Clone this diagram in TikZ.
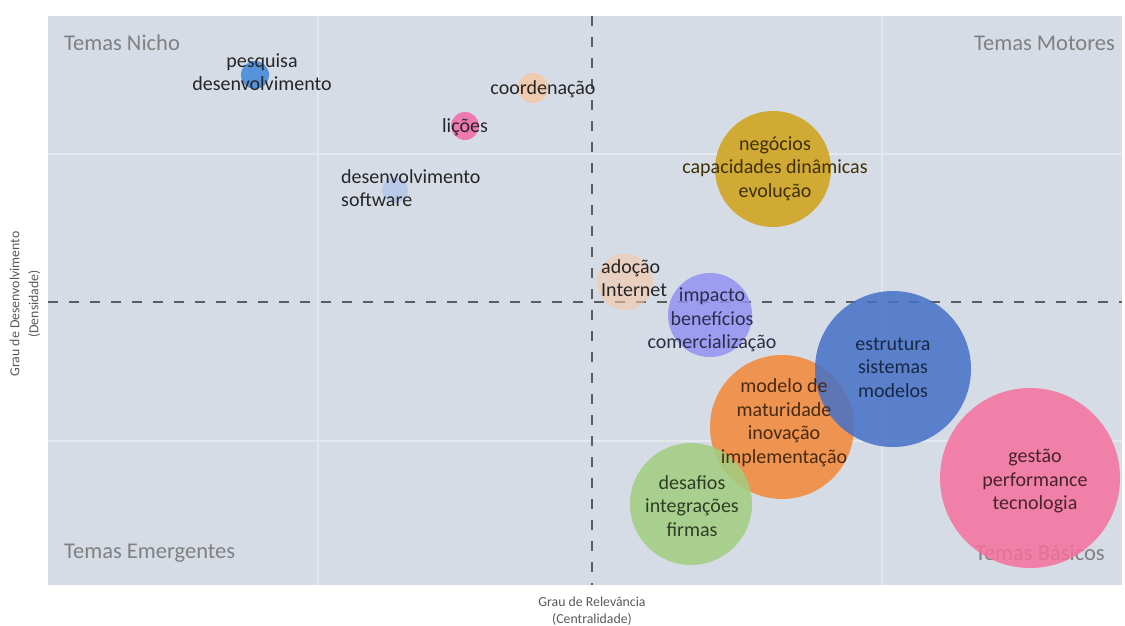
\documentclass[tikz,border=0pt]{standalone}
\usepackage{fontspec}
\setmainfont{Carlito}
\usetikzlibrary{positioning}
\definecolor{fundo}{HTML}{D6DCE5}
\definecolor{ouro}{HTML}{D1A117}
\definecolor{lilas}{HTML}{9292F2}
\definecolor{azul}{HTML}{4570C8}
\definecolor{laranja}{HTML}{F38736}
\definecolor{verde}{HTML}{A1CD7F}
\definecolor{rosa}{HTML}{F5709D}
\definecolor{azulp}{HTML}{3F86D8}
\definecolor{pessego}{HTML}{F4C7A6}
\definecolor{rosap}{HTML}{F06AA8}
\definecolor{azulc}{HTML}{B4C6EC}
\tikzset{
    bolha/.style = {circle, inner sep=0pt, draw=none, fill opacity=0.85},
    rotulo/.style = {align=center, inner sep=0pt, font=\fontsize{20}{23.5}\selectfont, text=black!85},
    quadrante/.style = {inner sep=0pt, font=\fontsize{22.5}{26}\selectfont, text=black!50},
    eixo/.style = {align=center, inner sep=0pt, font=\fontsize{13.8}{17}\selectfont, text=black!65},
    tracejado/.style = {line width=2.2pt, draw=black!64, dash pattern=on 10pt off 11pt}, % quadrantes
    grade/.style = {line width=1.5pt, draw=white!35!fundo}
}

\begin{document}
\begin{tikzpicture}[x=1pt,y=-1pt]
\useasboundingbox (0,0) rectangle (1125,625);
%
\fill[fundo] (48,16) rectangle (1122,585);
\foreach \gx in {318,882} \draw[grade] (\gx,16) -- (\gx,585);
\foreach \gy in {154,441} \draw[grade] (48,\gy) -- (1122,\gy);
%
\coordinate (topo) at (592,16);
\coordinate (base) at (592,585);
\coordinate (esq) at (48,302);
\coordinate (dir) at (1122,302);
\draw[tracejado] (topo) -- (base);
\draw[tracejado] (esq) -- (dir);
%
\node[quadrante, anchor=west] at (64,43) (nicho) {Temas Nicho};
\node[quadrante, anchor=east] at (1115,43) (motores) {Temas Motores};
\node[quadrante, anchor=west] at (64,553) (emergentes) {Temas Emergentes};
\node[quadrante, anchor=east] at (1105,553) (basicos) {Temas Básicos};
%
\node[bolha, fill=azulp, minimum size=28] at (255,75) (b1) {};
\node[bolha, fill=pessego, minimum size=30] at (533,88) (b2) {};
\node[bolha, fill=rosap, minimum size=28] at (465,126) (b3) {};
\node[bolha, fill=azulc, minimum size=26] at (395,190) (b4) {};
\node[bolha, fill=ouro, minimum size=116] at (773,169) (b5) {};
\node[bolha, fill=pessego, fill opacity=0.6, minimum size=56] at (625,282) (b6) {};
\node[bolha, fill=lilas, minimum size=84] at (710,315) (b7) {};
\node[bolha, fill=laranja, minimum size=144] at (782,427) (b8) {};
\node[bolha, fill=azul, minimum size=156] at (893,369) (b9) {};
\node[bolha, fill=verde, minimum size=122] at (691,504) (b10) {};
\node[bolha, fill=rosa, minimum size=180] at (1030,478) (b11) {};
%
\node[rotulo] at (262,72) (t1) {pesquisa\\desenvolvimento};
\node[rotulo] at (543,89) (t2) {coordenação};
\node[rotulo] at (465,127) (t3) {lições};
\node[rotulo, align=left, anchor=west] at (341,188) (t4) {desenvolvimento\\software};
\node[rotulo, text=ouro!30!black] at (775,168.5) (t5) {negócios\\capacidades dinâmicas\\evolução};
\node[rotulo, align=left, anchor=west] at (601,278) (t6) {adoção\\Internet};
\node[rotulo, text=lilas!30!black] at (712,320) (t7) {impacto\\benefícios\\comercialização};
\node[rotulo, text=laranja!30!black] at (784,422.5) (t8) {modelo de\\maturidade\\inovação\\implementação};
\node[rotulo, text=azul!35!black] at (893,367.5) (t9) {estrutura\\sistemas\\modelos};
\node[rotulo, text=verde!30!black] at (692,506) (t10) {desafios\\integrações\\firmas};
\node[rotulo, text=rosa!30!black] at (1035,481.5) (t11) {gestão\\performance\\tecnologia};
%
\node[eixo] at (592,611) (relevancia) {Grau de Relevância\\(Centralidade)};
\node[eixo, rotate=90, font=\fontsize{13.8}{19}\selectfont] at (25,304) (densidade) {Grau de Desenvolvimento\\(Densidade)};

\end{tikzpicture}
\end{document}
